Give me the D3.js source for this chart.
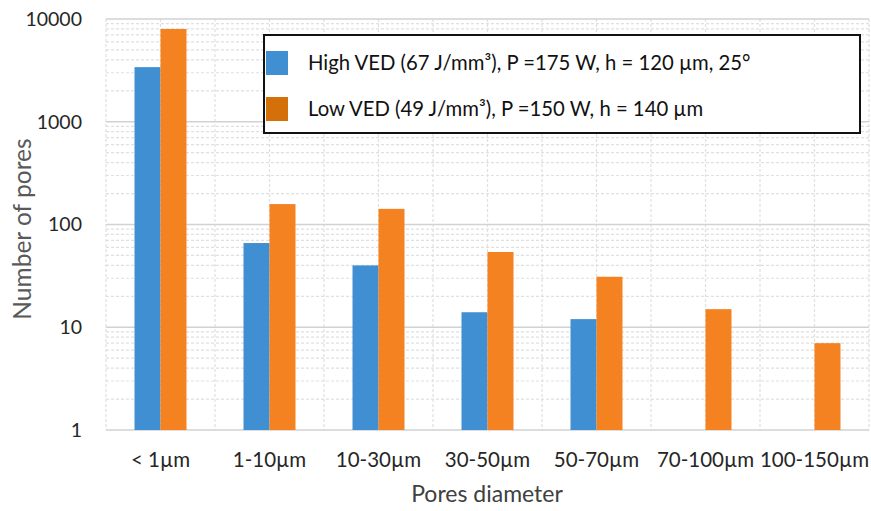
<!DOCTYPE html>
<html><head><meta charset="utf-8">
<script src="https://cdn.jsdelivr.net/npm/d3@7"></script>
<style>body{margin:0;background:#fff;} svg{display:block;}</style>
</head><body>
<svg id="c" width="871" height="511"></svg>
<script>
const categories = ["< 1µm","1-10µm","10-30µm","30-50µm","50-70µm","70-100µm","100-150µm"];
const highVED = [3400, 66, 40, 14, 12, null, null];
const lowVED = [8000, 158, 142, 54, 31, 15, 7];
const seriesNames = ["High VED (67 J/mm³), P =175 W, h = 120 µm, 25°", "Low VED (49 J/mm³), P =150 W, h = 140 µm"];
const yTicks = [1, 10, 100, 1000, 10000];

(function () {
const svg = d3.select("#c");
const pl = 106, pr = 869, pt = 19, pb = 430;
const font = "Lato, 'Open Sans', sans-serif";

const x = d3.scaleBand().domain(categories).range([pl, pr]);
const y = d3.scaleLog().domain([1, 10000]).range([pb, pt]);
const barW = 26;

// minor gridlines
const minor = [];
for (let d = 1; d < 10000; d *= 10) for (let k = 2; k <= 9; k++) minor.push(d * k);
svg.append("g").selectAll("line").data(minor).join("line")
  .attr("x1", pl).attr("x2", pr)
  .attr("y1", d => y(d)).attr("y2", d => y(d))
  .attr("stroke", "#e0e0e0").attr("stroke-width", 1.2).attr("stroke-dasharray", "3,2");
// vertical gridlines at category boundaries and centers
const vlines = [];
categories.forEach(c => { vlines.push(x(c)); vlines.push(x(c) + x.bandwidth() / 2); });
vlines.push(pr);
svg.append("g").selectAll("line").data(vlines).join("line")
  .attr("x1", d => d).attr("x2", d => d).attr("y1", pt).attr("y2", pb)
  .attr("stroke", "#e0e0e0").attr("stroke-width", 1.2).attr("stroke-dasharray", "3,2");
// major gridlines
svg.append("g").selectAll("line").data(yTicks).join("line")
  .attr("x1", pl).attr("x2", pr)
  .attr("y1", d => y(d)).attr("y2", d => y(d))
  .attr("stroke", "#d2d2d2").attr("stroke-width", 1.5);

// bars
const colors = ["#3F8FD2", "#F58220"];
[highVED, lowVED].forEach((vals, si) => {
  svg.append("g").selectAll("rect")
    .data(categories.map((c, i) => ({ c, v: vals[i] })).filter(d => d.v != null))
    .join("rect")
    .attr("x", d => x(d.c) + x.bandwidth() / 2 - barW + si * barW)
    .attr("width", barW)
    .attr("y", d => y(d.v))
    .attr("height", d => pb - y(d.v))
    .attr("fill", colors[si]);
});

// y axis labels
svg.append("g").selectAll("text").data(yTicks).join("text")
  .attr("x", 82).attr("y", d => y(d)).attr("dy", "0.35em")
  .attr("text-anchor", "end").attr("font-family", font).attr("font-size", 19.5)
  .attr("fill", "#262626").text(d => d);
// x axis labels
svg.append("g").selectAll("text").data(categories).join("text")
  .attr("x", d => x(d) + x.bandwidth() / 2).attr("y", 467)
  .attr("text-anchor", "middle").attr("font-family", font).attr("font-size", 20.5)
  .attr("fill", "#262626").text(d => d);

// axis titles
svg.append("text").attr("x", 487).attr("y", 502).attr("text-anchor", "middle")
  .attr("font-family", font).attr("font-size", 23).attr("fill", "#404040").text("Pores diameter");
svg.append("text").attr("transform", "translate(31,229) rotate(-90)").attr("text-anchor", "middle")
  .attr("font-family", font).attr("font-size", 24.5).attr("fill", "#595959").text("Number of pores");

// legend
const lg = svg.append("g");
lg.append("rect").attr("x", 264).attr("y", 35).attr("width", 596).attr("height", 98)
  .attr("fill", "#fff").attr("stroke", "#111").attr("stroke-width", 2);
const swatch = ["#3F8FD2", "#D4700A"];
const ly = [63, 109];
seriesNames.forEach((n, i) => {
  lg.append("rect").attr("x", 266).attr("y", ly[i] - 12).attr("width", 22).attr("height", 24).attr("fill", swatch[i]);
  lg.append("text").attr("x", 308).attr("y", ly[i]).attr("dy", "0.35em")
    .attr("font-family", font).attr("font-size", 20.3).attr("fill", "#111").text(n);
});
})();
</script>
</body></html>
